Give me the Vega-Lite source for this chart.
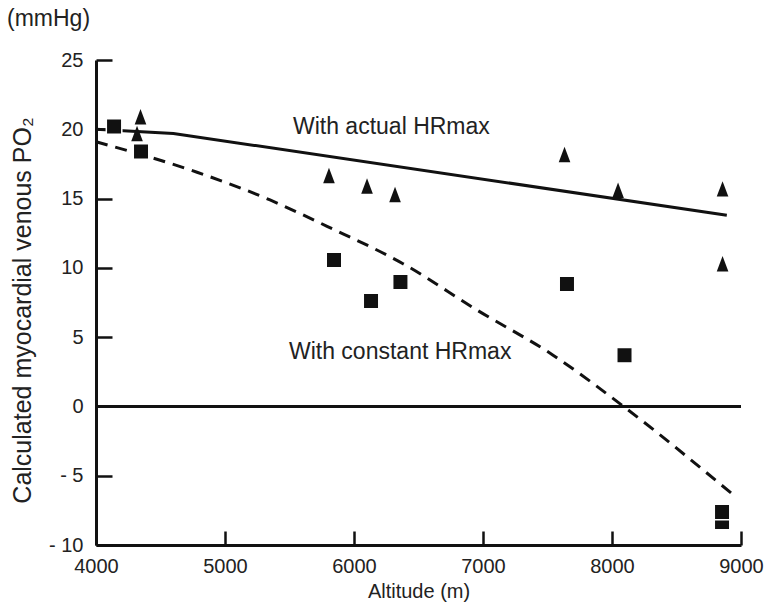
{
  "$schema": "https://vega.github.io/schema/vega-lite/v6.json",
  "width": 645,
  "height": 485,
  "autosize": {"type": "none"},
  "padding": {"left": 96, "top": 60, "right": 30, "bottom": 62},
  "background": "white",
  "config": {
    "font": "Liberation Sans",
    "view": {"stroke": null},
    "axis": {
      "grid": false,
      "domainColor": "#111111",
      "domainWidth": 3,
      "tickColor": "#111111",
      "tickWidth": 2.5,
      "labelColor": "#222222",
      "labelFontSize": 20,
      "labelFlush": false,
      "titleColor": "#222222",
      "titleFontSize": 20,
      "titleFontWeight": "normal"
    }
  },
  "title": {
    "text": "(mmHg)",
    "anchor": "start",
    "frame": "group",
    "dx": -89,
    "offset": 19,
    "fontSize": 23,
    "fontWeight": "normal",
    "color": "#222222"
  },
  "datasets": {
    "actual": [
      {"altitude": 4000, "po2": 20.0},
      {"altitude": 4600, "po2": 19.7},
      {"altitude": 8890, "po2": 13.8}
    ],
    "constant": [
      {"altitude": 4000, "po2": 19.1},
      {"altitude": 4783, "po2": 16.9},
      {"altitude": 5349, "po2": 14.9},
      {"altitude": 5791, "po2": 13.0},
      {"altitude": 6380, "po2": 10.3},
      {"altitude": 6953, "po2": 6.96},
      {"altitude": 7543, "po2": 3.7},
      {"altitude": 8085, "po2": 0.03},
      {"altitude": 8930, "po2": -6.3}
    ],
    "triangles": [
      {"altitude": 4345, "po2": 20.9},
      {"altitude": 4318, "po2": 19.7},
      {"altitude": 5806, "po2": 16.66},
      {"altitude": 6101, "po2": 15.9},
      {"altitude": 6318, "po2": 15.3},
      {"altitude": 7632, "po2": 18.18},
      {"altitude": 8047, "po2": 15.6},
      {"altitude": 8857, "po2": 15.7},
      {"altitude": 8857, "po2": 10.3}
    ],
    "squares": [
      {"altitude": 8853, "po2": -8.34},
      {"altitude": 4140, "po2": 20.2},
      {"altitude": 4349, "po2": 18.4},
      {"altitude": 5845, "po2": 10.56},
      {"altitude": 6132, "po2": 7.6},
      {"altitude": 6360, "po2": 8.98},
      {"altitude": 7651, "po2": 8.84},
      {"altitude": 8097, "po2": 3.7},
      {"altitude": 8853, "po2": -7.62}
    ],
    "minorTicks": [
      {"altitude": 4500}, {"altitude": 5500}, {"altitude": 6500},
      {"altitude": 7500}, {"altitude": 8500}
    ],
    "labels": [
      {"altitude": 5527, "po2": 20.2, "text": "With actual HRmax"},
      {"altitude": 5496, "po2": 3.9, "text": "With constant HRmax"}
    ]
  },
  "encoding": {
    "x": {
      "field": "altitude",
      "type": "quantitative",
      "scale": {"domain": [4000, 9000], "nice": false, "zero": false},
      "axis": {
        "title": "Altitude (m)",
        "values": [4000, 5000, 6000, 7000, 8000, 9000],
        "format": "d",
        "tickSize": -14,
        "labelPadding": 25,
        "titlePadding": 5
      }
    },
    "y": {
      "field": "po2",
      "type": "quantitative",
      "scale": {"domain": [-10, 25], "nice": false, "zero": false},
      "axis": {
        "title": "Calculated myocardial venous PO₂",
        "titleFontSize": 25,
        "titleY": 250,
        "values": [-10, -5, 0, 5, 10, 15, 20, 25],
        "labelExpr": "datum.value < 0 ? '- ' + (-datum.value) : datum.label",
        "tickSize": -16,
        "labelPadding": 29,
        "titlePadding": 13
      }
    }
  },
  "layer": [
    {
      "data": {"values": [{"po2": 0}]},
      "mark": {"type": "rule", "color": "#111111", "strokeWidth": 3},
      "encoding": {"x": null}
    },
    {
      "data": {"name": "minorTicks"},
      "mark": {"type": "rule", "color": "#111111", "strokeWidth": 2.5},
      "encoding": {"y": {"datum": -10}, "y2": {"datum": -9.5}}
    },
    {
      "data": {"name": "actual"},
      "mark": {"type": "line", "color": "#111111", "strokeWidth": 3}
    },
    {
      "data": {"name": "constant"},
      "mark": {"type": "line", "color": "#111111", "strokeWidth": 3, "strokeDash": [12, 8], "interpolate": "monotone"}
    },
    {
      "data": {"name": "triangles"},
      "mark": {"type": "point", "shape": "M0,-1L-0.75,1L0.75,1Z", "size": 240, "filled": true, "color": "#111111", "opacity": 1}
    },
    {
      "data": {"name": "squares"},
      "mark": {"type": "point", "shape": "square", "size": 240, "filled": true, "color": "#111111", "opacity": 1, "stroke": "white", "strokeWidth": 1.5}
    },
    {
      "data": {"name": "labels"},
      "mark": {"type": "text", "align": "left", "baseline": "middle", "fontSize": 23, "color": "#222222"},
      "encoding": {"text": {"field": "text"}}
    }
  ]
}
